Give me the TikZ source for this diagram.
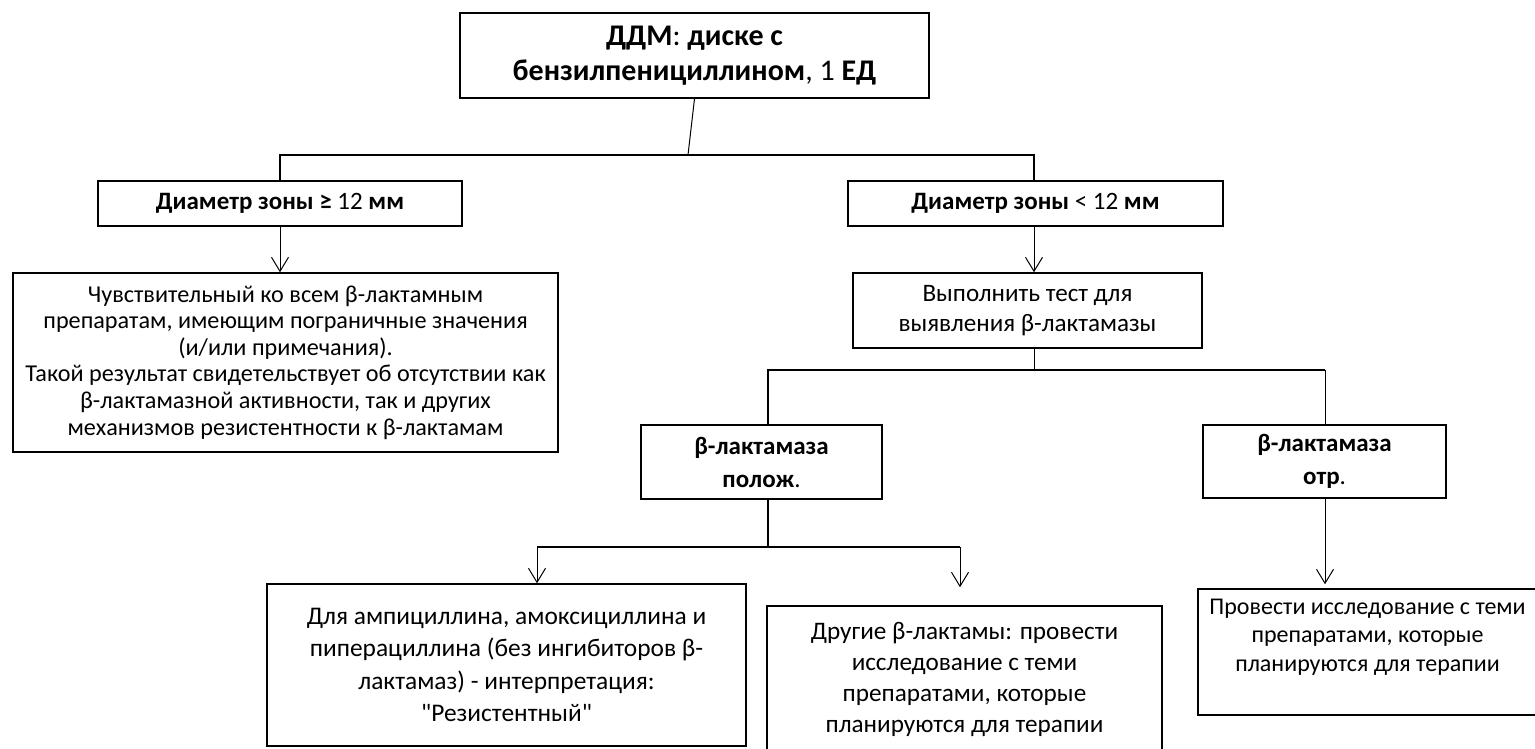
\documentclass[tikz,border=0pt]{standalone}
\usepackage{fontspec}
\setmainfont{Carlito}[Ligatures=TeXOff]
\usetikzlibrary{arrows.meta}

\tikzset{
  box/.style={draw, line width=1.5pt, inner sep=0pt, align=center},
  bar/.style={line width=2pt},
  conn/.style={line width=1pt},
  arr/.style={conn, -{Straight Barb[length=14pt, width=17pt, line width=1pt]}},
  ftop/.style={font=\fontsize{30}{35}\selectfont\bfseries},
  fhead/.style={font=\fontsize{25}{33}\selectfont\bfseries},
  fbody/.style={font=\fontsize{25.2}{31}\selectfont},
  famp/.style={font=\fontsize{25.4}{32.5}\selectfont},
  ftest/.style={font=\fontsize{25.1}{30}\selectfont},
  fprov/.style={font=\fontsize{24}{28.5}\selectfont},
  fsmall/.style={font=\fontsize{24.2}{26.6}\selectfont},
}

\begin{document}
\begin{tikzpicture}[x=1pt, y=-1pt]
\useasboundingbox (0,0) rectangle (1535,748);

% boxes
\node[box, ftop, minimum width=469pt, minimum height=85pt] (ddm) at (694.5,55.5)
  {ДДМ{\mdseries:} диске с\\бензилпенициллином{\mdseries, 1} ЕД};
\node[box, fhead, minimum width=364pt, minimum height=45pt] (ge) at (280,203.5)
  {Диаметр зоны ≥ {\mdseries 12} мм};
\node[box, fhead, minimum width=375pt, minimum height=45pt] (lt) at (1035.5,203.5)
  {Диаметр зоны {\mdseries< 12} мм};
\node[box, fsmall, minimum width=545pt, minimum height=179pt] (sens) at (285.5,362.5)
  {Чувствительный ко всем β-лактамным\\препаратам, имеющим пограничные значения\\(и/или примечания).\\Такой результат свидетельствует об отсутствии как\\β-лактамазной активности, так и других\\механизмов резистентности к β-лактамам};
\node[box, ftest, minimum width=349pt, minimum height=75pt] (test) at (1027.5,310.5)
  {Выполнить тест для\\выявления β-лактамазы};
\node[box, fhead, minimum width=241pt, minimum height=74pt] (pos) at (761.5,462)
  {β-лактамаза\\полож{\mdseries.}};
\node[box, fhead, minimum width=243pt, minimum height=73pt] (neg) at (1324.5,461.5)
  {β-лактамаза\\отр{\mdseries.}};
\node[box, famp, minimum width=479pt, minimum height=162pt] (amp) at (506.5,665)
  {Для ампициллина, амоксициллина и\\пиперациллина (без ингибиторов β-\\лактамаз) - интерпретация:\\"Резистентный"};
\node[box, fbody, minimum width=395pt, minimum height=146pt] (oth) at (964.5,679)
  {Другие β-лактамы: провести\\исследование с теми\\препаратами, которые\\планируются для терапии};
\node[box, minimum width=347pt, minimum height=126pt,
  label={[fprov, align=center, name=provt, xshift=-4pt, yshift=15pt]center:{Провести исследование с теми\\препаратами, которые\\планируются для терапии}}] (prov) at (1371.5,652) {};

% connectors
\coordinate (j1l) at (280,155);
\coordinate (j1m) at (688,155);
\coordinate (j1r) at (1034,155);
\draw[conn] (ddm.south) -- (j1m);
\draw[bar] (ge.north) -- (j1l) -- (j1r) -- (j1r |- lt.north);
\draw[arr] (ge.south) -- (ge.south |- sens.north);
\draw[arr] (j1r |- lt.south) -- (j1r |- test.north);

\coordinate (j2l) at (768,370);
\coordinate (j2m) at (1034,370);
\coordinate (j2r) at (1325,370);
\draw[conn] (j2m |- test.south) -- (j2m);
\draw[bar] (j2l |- pos.north) -- (j2l) -- (j2r);
\draw[conn] (j2r) -- (j2r |- neg.north);
\draw[arr, shorten >=4pt] (j2r |- neg.south) -- (j2r |- prov.north);

\coordinate (j3l) at (537,547);
\coordinate (j3r) at (960,547);
\draw[bar] (j2l |- pos.south) -- (j2l |- j3l);
\draw[bar] (j3l) -- (j3r);
\draw[arr] (j3l) -- (j3l |- amp.north);
\draw[arr, shorten >=18pt] (j3r) -- (j3r |- oth.north);

\end{tikzpicture}
\end{document}
